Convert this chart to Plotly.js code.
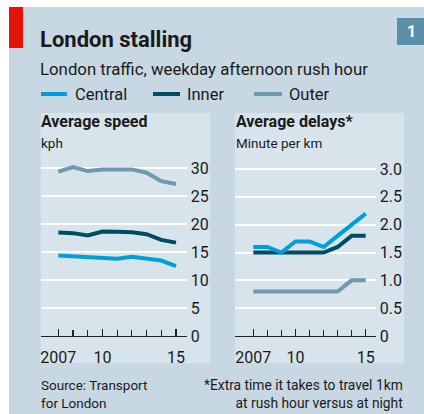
<!DOCTYPE html>
<html><head><meta charset="utf-8">
<script src="https://cdn.plot.ly/plotly-3.0.1.min.js"></script>
<style>html,body{margin:0;padding:0;background:#fff}#chart{width:424px;height:414px}</style>
</head><body><div id="chart"></div>
<script>
const years = [2007, 2008, 2009, 2010, 2011, 2012, 2013, 2014, 2015];
const speedCentral = [14.4, 14.25, 14.1, 13.9, 13.8, 14.15, 13.9, 13.5, 12.5];
const speedInner   = [18.5, 18.4, 18.0, 18.7, 18.65, 18.55, 18.2, 17.2, 16.7];
const speedOuter   = [29.4, 30.2, 29.5, 29.8, 29.8, 29.8, 29.2, 27.7, 27.2];
const delayCentral = [1.6, 1.6, 1.5, 1.7, 1.7, 1.6, 1.8, 2.0, 2.2];
const delayInner   = [1.5, 1.5, 1.5, 1.5, 1.5, 1.5, 1.6, 1.8, 1.8];
const delayOuter   = [0.8, 0.8, 0.8, 0.8, 0.8, 0.8, 0.8, 1.0, 1.0];
const seriesNames = ['Central', 'Inner', 'Outer'];
const xTickVals = [2007, 2010, 2015];
const xTickText = ['2007', '10', '15'];
const speedTicks = [0, 5, 10, 15, 20, 25, 30];
const speedTickText = ['0', '5', '10', '15', '20', '25', '30'];
const delayTicks = [0, 0.5, 1, 1.5, 2, 2.5, 3];
const delayTickText = ['0', '0.5', '1.0', '1.5', '2.0', '2.5', '3.0'];

const W = 424, H = 414;
const FONT = 'Roboto, "Noto Sans", sans-serif';
const INK = '#1a1a1a';
const colors = {Central: '#009fd9', Inner: '#004d62', Outer: '#6f99ad'};
const px = x => x / W;
const py = y => 1 - y / H;

function tr(x, y, name, xa, ya) {
  return {x: x, y: y, name: name, type: 'scatter', mode: 'lines', xaxis: xa, yaxis: ya,
    line: {color: colors[name], width: 4, shape: 'linear'}, showlegend: false, hoverinfo: 'skip'};
}
const data = [
  tr(years, speedOuter, 'Outer', 'x', 'y'),
  tr(years, speedInner, 'Inner', 'x', 'y'),
  tr(years, speedCentral, 'Central', 'x', 'y'),
  tr(years, delayOuter, 'Outer', 'x2', 'y2'),
  tr(years, delayInner, 'Inner', 'x2', 'y2'),
  tr(years, delayCentral, 'Central', 'x2', 'y2')
];

function xAx(domain, range, anchor) {
  return {domain: domain, range: range, anchor: anchor, showgrid: false, zeroline: false,
    showline: true, linecolor: '#222', linewidth: 1.3,
    tickmode: 'array', tickvals: xTickVals, ticktext: xTickText,
    ticks: 'inside', ticklen: 7, tickwidth: 1.2, tickcolor: '#222',
    minor: {tickvals: years, ticks: 'inside', ticklen: 6, tickwidth: 1.2, tickcolor: '#222', showgrid: false},
    tickfont: {family: FONT, size: 16, color: INK}, ticklabelstandoff: 6, fixedrange: true};
}
function yAx(domain, range, anchor, vals, text) {
  return {domain: domain, range: range, anchor: anchor, side: 'right', showgrid: true,
    gridcolor: '#ffffff', gridwidth: 2, zeroline: false, showline: false,
    tickmode: 'array', tickvals: vals, ticktext: text, ticks: '',
    tickfont: {family: FONT, size: 16, color: INK}, ticklabelstandoff: 3, fixedrange: true};
}

const shapes = [
  {type: 'rect', xref: 'paper', yref: 'paper', x0: px(9), x1: 1, y0: 0, y1: py(7), fillcolor: '#c8d8e2', line: {width: 0}, layer: 'below'},
  {type: 'rect', xref: 'paper', yref: 'paper', x0: px(9), x1: px(23), y0: py(48), y1: py(7), fillcolor: '#e3120b', line: {width: 0}, layer: 'below'},
  {type: 'rect', xref: 'paper', yref: 'paper', x0: px(397), x1: 1, y0: py(45), y1: py(18), fillcolor: '#5b8fa8', line: {width: 0}, layer: 'below'},
  {type: 'rect', xref: 'paper', yref: 'paper', x0: px(40.7), x1: px(210), y0: py(363), y1: py(113), fillcolor: '#d8e4eb', line: {width: 0}, layer: 'below'},
  {type: 'rect', xref: 'paper', yref: 'paper', x0: px(235), x1: px(404), y0: py(363), y1: py(113), fillcolor: '#d8e4eb', line: {width: 0}, layer: 'below'}
];
const legendX = {Central: [41, 67, 73], Inner: [153, 180, 185], Outer: [254, 282, 287]};
const annotations = [];
seriesNames.forEach(n => {
  const L = legendX[n];
  shapes.push({type: 'line', xref: 'paper', yref: 'paper', x0: px(L[0]), x1: px(L[1]), y0: py(94), y1: py(94), line: {color: colors[n], width: 4}});
  annotations.push({text: n, x: px(L[2]), y: py(94), xanchor: 'left', yanchor: 'middle', font: {family: FONT, size: 16.5, color: INK}});
});
function ann(text, x, y, size, opts) {
  annotations.push(Object.assign({text: text, x: px(x), y: py(y), xanchor: 'left', yanchor: 'middle', font: {family: FONT, size: size, color: INK}}, opts || {}));
}
ann('<b>London stalling</b>', 38, 40, 22);
ann('London traffic, weekday afternoon rush hour', 38, 69, 16.8);
ann('<b>1</b>', 411, 31.5, 16, {xanchor: 'center', font: {family: FONT, size: 16, color: '#ffffff'}});
ann('<b>Average speed</b>', 39, 122, 16);
ann('kph', 39, 143, 13.5);
ann('<b>Average delays*</b>', 234, 122, 16);
ann('Minute per km', 234, 143, 13.5);
ann('Source: Transport<br>for London', 39, 394, 13.5, {align: 'left'});
ann('*Extra time it takes to travel 1km<br>at rush hour versus at night', 405, 394, 13.8, {xanchor: 'right', align: 'right'});
annotations.forEach(a => {
  a.xref = 'paper'; a.yref = 'paper'; a.showarrow = false;
});

const layout = {
  width: W, height: H, margin: {l: 0, r: 0, t: 0, b: 0},
  paper_bgcolor: '#ffffff', plot_bgcolor: 'rgba(0,0,0,0)', showlegend: false,
  font: {family: FONT, color: INK},
  xaxis: xAx([px(40.7), px(186.7)], [2005.80, 2015.73], 'y'),
  yaxis: yAx([py(336), py(157.1)], [0, 32], 'x', speedTicks, speedTickText),
  xaxis2: xAx([px(235), px(375.7)], [2005.70, 2015.71], 'y2'),
  yaxis2: yAx([py(336), py(157.9)], [0, 3.2], 'x2', delayTicks, delayTickText),
  shapes: shapes, annotations: annotations
};
Plotly.newPlot('chart', data, layout, {displayModeBar: false, staticPlot: true});
</script></body></html>
